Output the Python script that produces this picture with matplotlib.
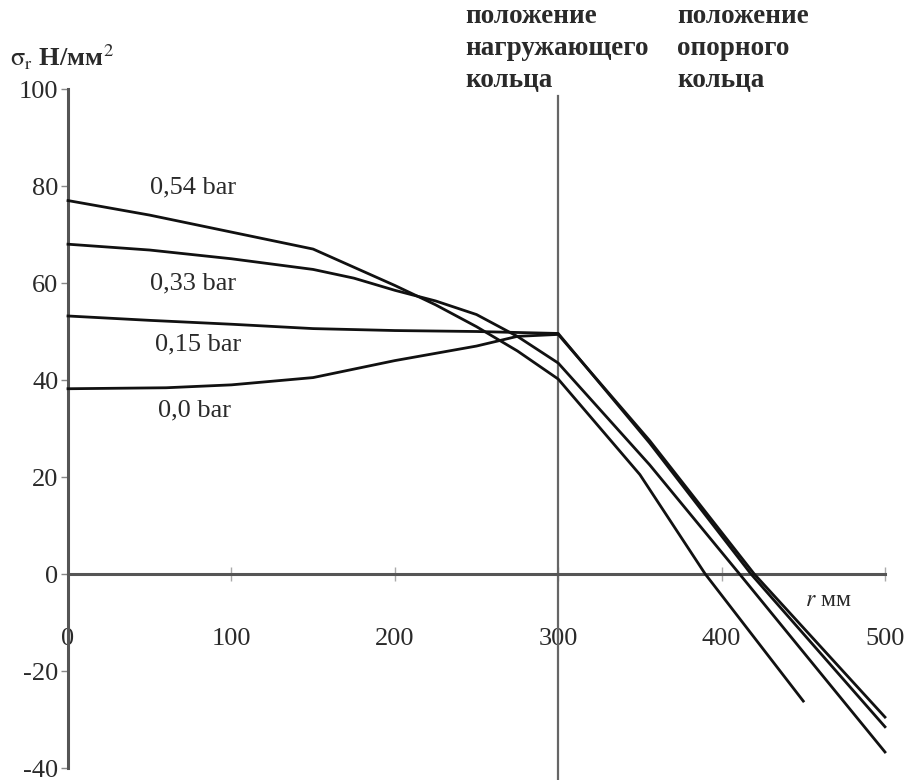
import matplotlib
matplotlib.use("Agg")
import matplotlib.pyplot as plt

plt.rcParams['font.family'] = ['Liberation Serif', 'DejaVu Serif']
plt.rcParams['mathtext.fontset'] = 'stix'

# ---- data ----
r_054 = [0, 50, 100, 150, 200, 225, 250, 275, 300, 350, 390, 450]
s_054 = [77, 74, 70.5, 67, 59.5, 55.5, 51, 46, 40.2, 20.5, 0, -26.2]

r_033 = [0, 50, 100, 150, 175, 200, 225, 250, 275, 300, 356, 411, 500]
s_033 = [68, 66.8, 65, 62.8, 61, 58.5, 56.3, 53.5, 49, 43.5, 22.5, 0, -36.7]

r_015 = [0, 50, 100, 150, 200, 250, 300, 356, 418, 500]
s_015 = [53.2, 52.3, 51.5, 50.6, 50.2, 50.0, 49.6, 27.0, 0, -31.5]

r_000 = [0, 60, 100, 150, 200, 250, 275, 300, 356, 420, 500]
s_000 = [38.2, 38.4, 39.0, 40.5, 44.0, 47.0, 49.0, 49.4, 27.5, 0, -29.5]

series_labels = ["0,54 bar", "0,33 bar", "0,15 bar", "0,0 bar"]
x_ticks = [0, 100, 200, 300, 400, 500]
y_ticks = [-40, -20, 0, 20, 40, 60, 80, 100]
ring_load_r = 300

fig = plt.figure(figsize=(9.12, 7.8), dpi=100)
ax = fig.add_axes([0.07456, 0.01538, 0.8958, 0.8705])
ax.set_xlim(0, 500)
ax.set_ylim(-40, 100)

axis_col = '#555555'
txt_col = '#2a2a2a'

for rr, ss in [(r_054, s_054), (r_033, s_033), (r_015, s_015), (r_000, s_000)]:
    ax.plot(rr, ss, color='#111111', lw=2.0, solid_joinstyle='round', clip_on=False, zorder=3)

# spines
for s in ['top', 'right']:
    ax.spines[s].set_visible(False)
ax.spines['left'].set_position(('data', 0))
ax.spines['bottom'].set_position(('data', 0))
ax.spines['left'].set_color(axis_col)
ax.spines['bottom'].set_color(axis_col)
ax.spines['left'].set_linewidth(2.2)
ax.spines['bottom'].set_linewidth(2.2)
ax.spines['left'].set_zorder(2)
ax.spines['bottom'].set_zorder(2)

ax.set_yticks(y_ticks)
ax.set_yticklabels([str(v) for v in y_ticks])
ax.tick_params(axis='y', direction='out', length=5, width=1, color='#888888',
               labelsize=19, labelcolor=txt_col, pad=2)

ax.set_xticks(x_ticks)
ax.set_xticklabels([str(v) for v in x_ticks])
ax.tick_params(axis='x', direction='inout', length=10, width=1, color='#aaaaaa',
               labelsize=19, labelcolor=txt_col, pad=34)

# loading ring position line
ax.plot([ring_load_r, ring_load_r], [-42.5, 98.5], color='#666666', lw=1.6,
        clip_on=False, zorder=2)

# curve labels
lab_pos = [(50, 79.8), (50, 60.0), (53, 47.4), (55, 33.8)]
for lab, (xx, yy) in zip(series_labels, lab_pos):
    ax.text(xx, yy, lab, fontsize=19, color=txt_col, va='center', ha='left')

# axis titles
ax.text(451, -5.5, r'$\mathit{r}$ мм', fontsize=17, color=txt_col, va='center', ha='left')
fig.text(10 / 912, 1 - 57 / 780, r'$\mathrm{\sigma}_{\mathrm{r}}$ Н/мм$^{2}$', fontsize=19,
         color=txt_col, va='center', ha='left', fontweight='bold')

# annotations
fig.text(465 / 912, 1 - 4 / 780, "положение\nнагружающего\nкольца", fontsize=19.5,
         color=txt_col, va='top', ha='left', linespacing=1.38, fontweight='bold')
fig.text(677 / 912, 1 - 4 / 780, "положение\nопорного\nкольца", fontsize=19.5,
         color=txt_col, va='top', ha='left', linespacing=1.38, fontweight='bold')

fig.savefig("out.png", dpi=100)
